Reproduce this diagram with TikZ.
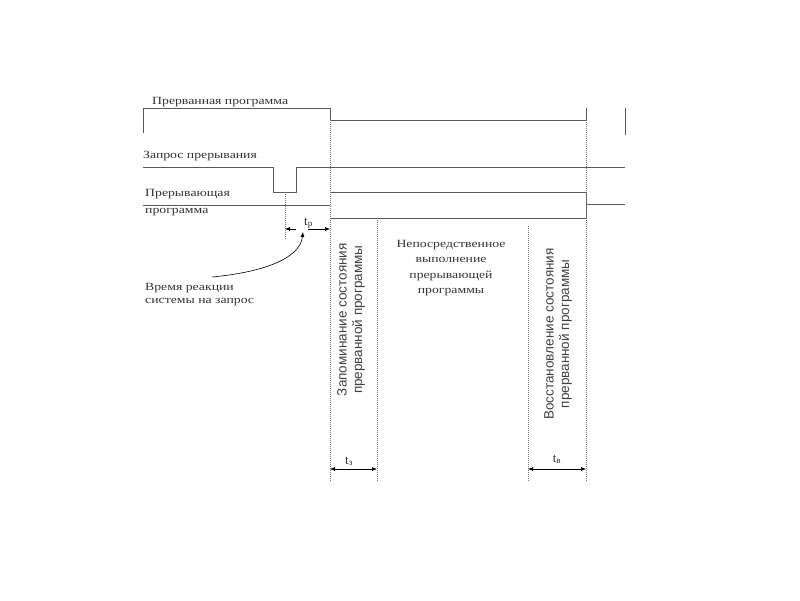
\documentclass[tikz,border=0pt]{standalone}
\usepackage{fontspec}
\setmainfont{Liberation Serif}
\newfontfamily\arialf{Liberation Sans}
\usetikzlibrary{arrows.meta}
\newcommand{\widetxt}[1]{\scalebox{1.25}[1]{#1}}
\begin{document}
\begin{tikzpicture}[x=1pt,y=-1pt,
  sig/.style={draw=black!65, line width=0.9pt},
  guide/.style={draw=black!55, line width=0.6pt, dash pattern=on 1pt off 1pt},
  dimarrow/.style={-{Latex[length=5pt,width=4pt]}, draw=black, line width=0.6pt},
  lbl/.style={font=\fontsize{11}{15.5}\selectfont, text=black!80, anchor=base west, inner sep=0pt},
  cbl/.style={font=\fontsize{11}{15.5}\selectfont, text=black!80, align=center, inner sep=0pt},
  tlbl/.style={font=\fontsize{13}{13}\selectfont, text=black!80, inner sep=0pt},
  rot/.style={font=\arialf\fontsize{13.5}{15.5}\selectfont, text=black!75, rotate=90, align=center, inner sep=0pt}]
\useasboundingbox (0,0) rectangle (800,600);

% signals
\draw[sig] (143,133) -- (143,108) -- (330,108) -- (330,120) -- (586,120) -- (586,108);
\draw[sig] (625,108) -- (625,135);
\draw[sig] (143,167) -- (273,167) -- (273,192) -- (296,192) -- (296,167) -- (625,167);
\draw[sig] (143,205) -- (330,205);
\draw[sig] (330,192) -- (586,192) -- (586,218) -- (330,218);
\draw[sig] (586,204) -- (625,204);

% guides
\draw[guide] (285,192) -- (285,240);
\draw[guide] (330,120) -- (330,482);
\draw[guide] (377,218) -- (377,482);
\draw[guide] (528,226) -- (528,482);
\draw[guide] (586,120) -- (586,482);

% labels
\node[lbl] (l1) at (152,104) {\widetxt{Прерванная программа}};
\node[lbl] (l2) at (143,158) {\widetxt{Запрос прерывания}};
\node[lbl] (l3) at (145,196) {\widetxt{Прерывающая}};
\node[lbl] (l4) at (145,213) {\widetxt{программа}};
\node[lbl] (l5) at (145,290) {\widetxt{Время реакции}};
\node[lbl] (l6) at (145,303) {\widetxt{системы на запрос}};

\node[cbl, anchor=north] (mid) at (451,240) {\widetxt{Непосредственное}\\\widetxt{выполнение}\\\widetxt{прерывающей}\\\widetxt{программы}};

\node[rot, anchor=east] (zap) at (351,243) {Запоминание состояния\\прерванной программы};
\node[rot] (vos) at (558,334) {Восстановление состояния\\прерванной программы};

% t_p
\coordinate (tpa) at (285,229);
\coordinate (tpb) at (330,229);
\coordinate (tpm1) at (296,229);
\coordinate (tpm2) at (308,229);
\draw[dimarrow] (tpm1) -- (tpa);
\draw[dimarrow] (tpm2) -- (tpb);
\node[tlbl, anchor=base west] (tp) at (304,225) {t\textsubscript{р}};

% curved arrow
\coordinate (cs) at (212,277);
\coordinate (ce) at (303,232);
\draw[-{Latex[length=5pt,width=4pt]}, line width=0.6pt] (cs) .. controls (265,272) and (300,258) .. (ce);

% t_z
\coordinate (za) at (330,469);
\coordinate (zb) at (377,469);
\draw[dimarrow, {Latex[length=5pt,width=4pt]}-{Latex[length=5pt,width=4pt]}] (za) -- (zb);
\node[tlbl, anchor=base] (tz) at (349,464) {t\textsubscript{з}};

% t_v
\coordinate (va) at (528,469);
\coordinate (vb) at (586,469);
\draw[dimarrow, {Latex[length=5pt,width=4pt]}-{Latex[length=5pt,width=4pt]}] (va) -- (vb);
\node[tlbl, anchor=base] (tv) at (557,462) {t\textsubscript{в}};
\end{tikzpicture}
\end{document}
